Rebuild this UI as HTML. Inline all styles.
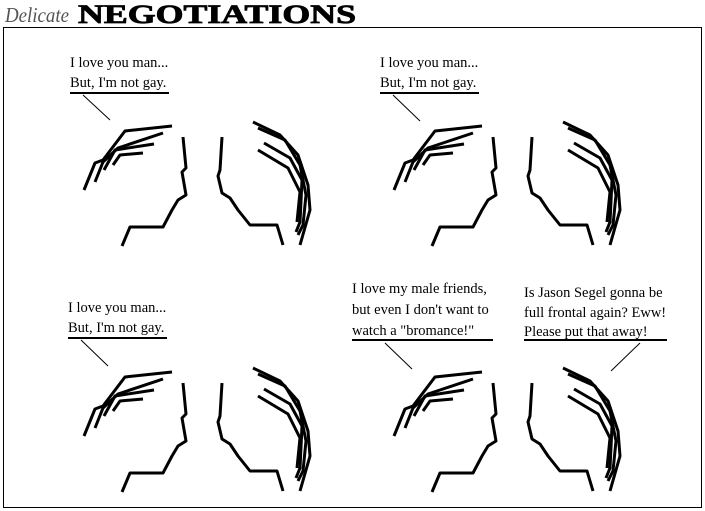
<!DOCTYPE html>
<html><head><style>
html,body{margin:0;padding:0;background:#fff;}
svg{display:block;}
text{font-family:"Liberation Serif",serif;font-size:14.5px;fill:#000;}
</style></head><body>
<svg width="705" height="511" viewBox="0 0 705 511" xmlns="http://www.w3.org/2000/svg">
<defs>
<g id="heads" fill="none" stroke="#000" stroke-width="3" stroke-linejoin="round" stroke-linecap="butt">
  <polyline points="84,190 95,163 103,160 125,131 172,126"/>
  <polyline points="95,182 103,162 118,148 163,133"/>
  <polyline points="104,170 115,150 154,144"/>
  <polyline points="113,165 120,155 143,153"/>
  <polyline points="183,137 186,168 182,172 186,195 178,200 172,210 163,227 130,227 122,246"/>
  <polyline points="222,137 220,170 218,176 222,193 230,198 238,210 250,225 277,225 283,245"/>
  <polyline points="253,122 280,135 298,155 308,185 310,210 300,245"/>
  <polyline points="258,128 285,140 300,165 306,195 303,225 298,235"/>
  <polyline points="264,143 290,158 302,180 300,222 296,232"/>
  <polyline points="258,150 288,168 300,192 297,222"/>
</g>
</defs>
<rect x="3.5" y="27.5" width="698" height="480" fill="none" stroke="#000" stroke-width="1"/>
<text x="5" y="22" textLength="64" lengthAdjust="spacingAndGlyphs" style="font-family:'Liberation Serif',serif;font-style:italic;font-size:21px;fill:#555">Delicate</text>
<text x="78" y="23" textLength="278" lengthAdjust="spacingAndGlyphs" style="font-family:'Liberation Serif',serif;font-weight:bold;font-size:26px;stroke:#000;stroke-width:0.8">NEGOTIATIONS</text>

<use href="#heads"/>
<use href="#heads" transform="translate(310,0)"/>
<use href="#heads" transform="translate(0,246)"/>
<use href="#heads" transform="translate(310,246)"/>

<g stroke="#000" fill="none">
<line x1="70" y1="93" x2="169" y2="93" stroke-width="2"/>
<line x1="83" y1="95" x2="110" y2="120"/>
<line x1="380" y1="93" x2="479" y2="93" stroke-width="2"/>
<line x1="393" y1="95" x2="420" y2="121"/>
<line x1="68" y1="338" x2="167" y2="338" stroke-width="2"/>
<line x1="81" y1="340" x2="108" y2="366"/>
<line x1="352" y1="340" x2="493" y2="340" stroke-width="2"/>
<line x1="385" y1="343" x2="412" y2="369"/>
<line x1="524" y1="340" x2="667" y2="340" stroke-width="2"/>
<line x1="640" y1="343" x2="611" y2="371"/>
</g>

<text x="70" y="67">I love you man...</text>
<text x="70" y="87">But, I'm not gay.</text>
<text x="380" y="67">I love you man...</text>
<text x="380" y="87">But, I'm not gay.</text>
<text x="68" y="312">I love you man...</text>
<text x="68" y="332">But, I'm not gay.</text>
<text x="352" y="293">I love my male friends,</text>
<text x="352" y="314">but even I don't want to</text>
<text x="352" y="335">watch a "bromance!"</text>
<text x="524" y="297">Is Jason Segel gonna be</text>
<text x="524" y="317">full frontal again? Eww!</text>
<text x="524" y="336">Please put that away!</text>
</svg>
</body></html>
